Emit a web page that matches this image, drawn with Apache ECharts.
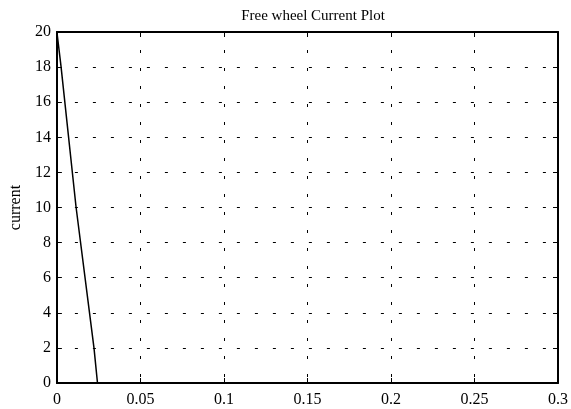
<!DOCTYPE html>
<html>
<head>
<meta charset="utf-8">
<script src="https://cdn.jsdelivr.net/npm/echarts@6/dist/echarts.min.js"></script>
<style>html,body{margin:0;padding:0;background:#fff;}#c{width:571px;height:409px;}</style>
</head>
<body>
<div id="c"></div>
<script>
const titleText = "Free wheel Current Plot";
const yName = "current";
const timeVals = [0, 0.0024, 0.0115, 0.0222, 0.0243];
const currentVals = [20, 18.1, 10, 2, 0];

const chart = echarts.init(document.getElementById('c'));
const font = '"Liberation Serif", "Times New Roman", serif';
const dash = { type: [3, 15], color: '#000', width: 1 };
const axisBase = {
  axisLine: { show: true, onZero: false, lineStyle: { color: '#000', width: 2 } },
  axisTick: { show: true, inside: true, length: 5, lineStyle: { color: '#000', width: 1 } },
};
chart.setOption({
  animation: false,
  backgroundColor: '#fff',
  title: {
    text: titleText, left: 308, top: 4, textAlign: 'center',
    textStyle: { fontFamily: font, fontSize: 15, fontWeight: 'normal', color: '#000' }
  },
  grid: { left: 56, right: 11, top: 32, bottom: 26, containLabel: false },
  xAxis: [
    Object.assign({
      type: 'value', min: 0, max: 0.3, interval: 0.05, position: 'bottom',
      axisLabel: { color: '#000', fontFamily: font, fontSize: 16, margin: 9,
        formatter: v => String(Math.round(v * 100) / 100) },
      splitLine: { show: true, lineStyle: dash }
    }, axisBase),
    Object.assign({
      type: 'value', min: 0, max: 0.3, interval: 0.05, position: 'top',
      axisLabel: { show: false }, splitLine: { show: false }
    }, axisBase)
  ],
  yAxis: [
    Object.assign({
      type: 'value', min: 0, max: 20, interval: 2, position: 'left',
      name: yName, nameLocation: 'middle', nameGap: 30, nameRotate: 90,
      nameTextStyle: { color: '#000', fontFamily: font, fontSize: 16 },
      axisLabel: { color: '#000', fontFamily: font, fontSize: 16, margin: 6 },
      splitLine: { show: true, lineStyle: dash }
    }, axisBase),
    Object.assign({
      type: 'value', min: 0, max: 20, interval: 2, position: 'right',
      axisLabel: { show: false }, splitLine: { show: false }
    }, axisBase)
  ],
  series: [{
    type: 'line',
    data: timeVals.map((t, i) => [t, currentVals[i]]),
    showSymbol: false,
    lineStyle: { color: '#000', width: 1.5 },
    clip: true
  }]
});
</script>
</body>
</html>
